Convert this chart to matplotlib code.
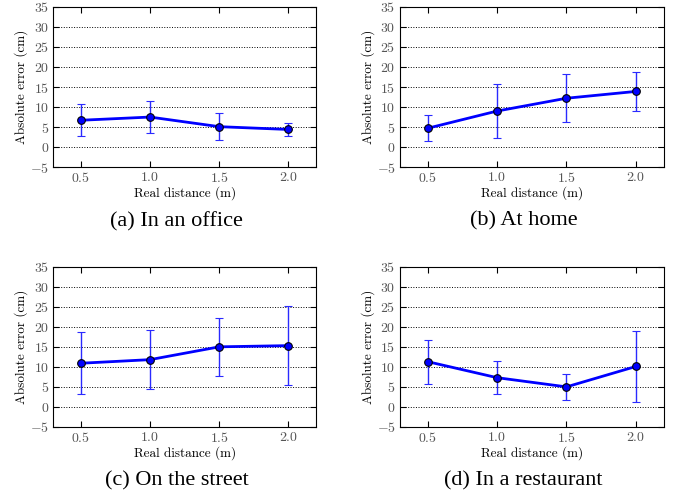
import matplotlib
matplotlib.use("Agg")
import matplotlib.pyplot as plt
import numpy as np

# data
distances = [0.5, 1.0, 1.5, 2.0]

office_mean = [6.7, 7.5, 5.1, 4.4]
office_err = [4.0, 3.9, 3.3, 1.6]

home_mean = [4.7, 9.0, 12.2, 13.9]
home_err = [3.3, 6.8, 6.0, 4.8]

street_mean = [10.9, 11.8, 15.0, 15.3]
street_err = [7.7, 7.4, 7.2, 9.8]

restaurant_mean = [11.3, 7.3, 5.0, 10.1]
restaurant_err = [5.5, 4.1, 3.3, 8.8]

captions = ["(a) In an office", "(b) At home", "(c) On the street", "(d) In a restaurant"]

plt.rcParams['mathtext.fontset'] = 'cm'
plt.rcParams['axes.formatter.use_mathtext'] = True
plt.rcParams['font.family'] = 'cmr10'

fig = plt.figure(figsize=(6.8, 4.93), dpi=100)

# axes positions: [left, bottom, width, height]
positions = [
    [0.078, 0.661, 0.387, 0.325],
    [0.588, 0.661, 0.388, 0.325],
    [0.078, 0.134, 0.387, 0.325],
    [0.588, 0.134, 0.388, 0.325],
]
caption_y = [0.551, 0.551, 0.025, 0.025]

series = [
    (office_mean, office_err),
    (home_mean, home_err),
    (street_mean, street_err),
    (restaurant_mean, restaurant_err),
]

for pos, (mean, err), cap, cy in zip(positions, series, captions, caption_y):
    ax = fig.add_axes(pos)
    ax.errorbar(distances, mean, yerr=err, color='#0000ff', lw=2,
                marker='o', ms=5.5, mfc='#0000ff', mec='black', mew=0.8,
                ecolor='#2a2aff', elinewidth=1, capsize=3, capthick=1)
    ax.set_xlim(0.3, 2.2)
    ax.set_ylim(-5, 35)
    ax.set_xticks(distances)
    ax.set_yticks(np.arange(-5, 36, 5))
    ax.tick_params(direction='in', top=True, right=True, length=4,
                   labelsize=10, labelcolor='#555555', pad=3)
    ax.yaxis.grid(True, linestyle=':', color='black', lw=0.7)
    for sp in ax.spines.values():
        sp.set_linewidth(0.8)
    ax.set_xlabel('Real distance (m)', fontsize=9.5, labelpad=1)
    ax.set_ylabel('Absolute error (cm)', fontsize=9.5, labelpad=1)
    cx = pos[0] + pos[2] / 2 - 0.012
    fig.text(cx, cy, cap, ha='center', va='center', fontsize=16,
             family='Liberation Serif')

fig.savefig('out.png', dpi=100)
